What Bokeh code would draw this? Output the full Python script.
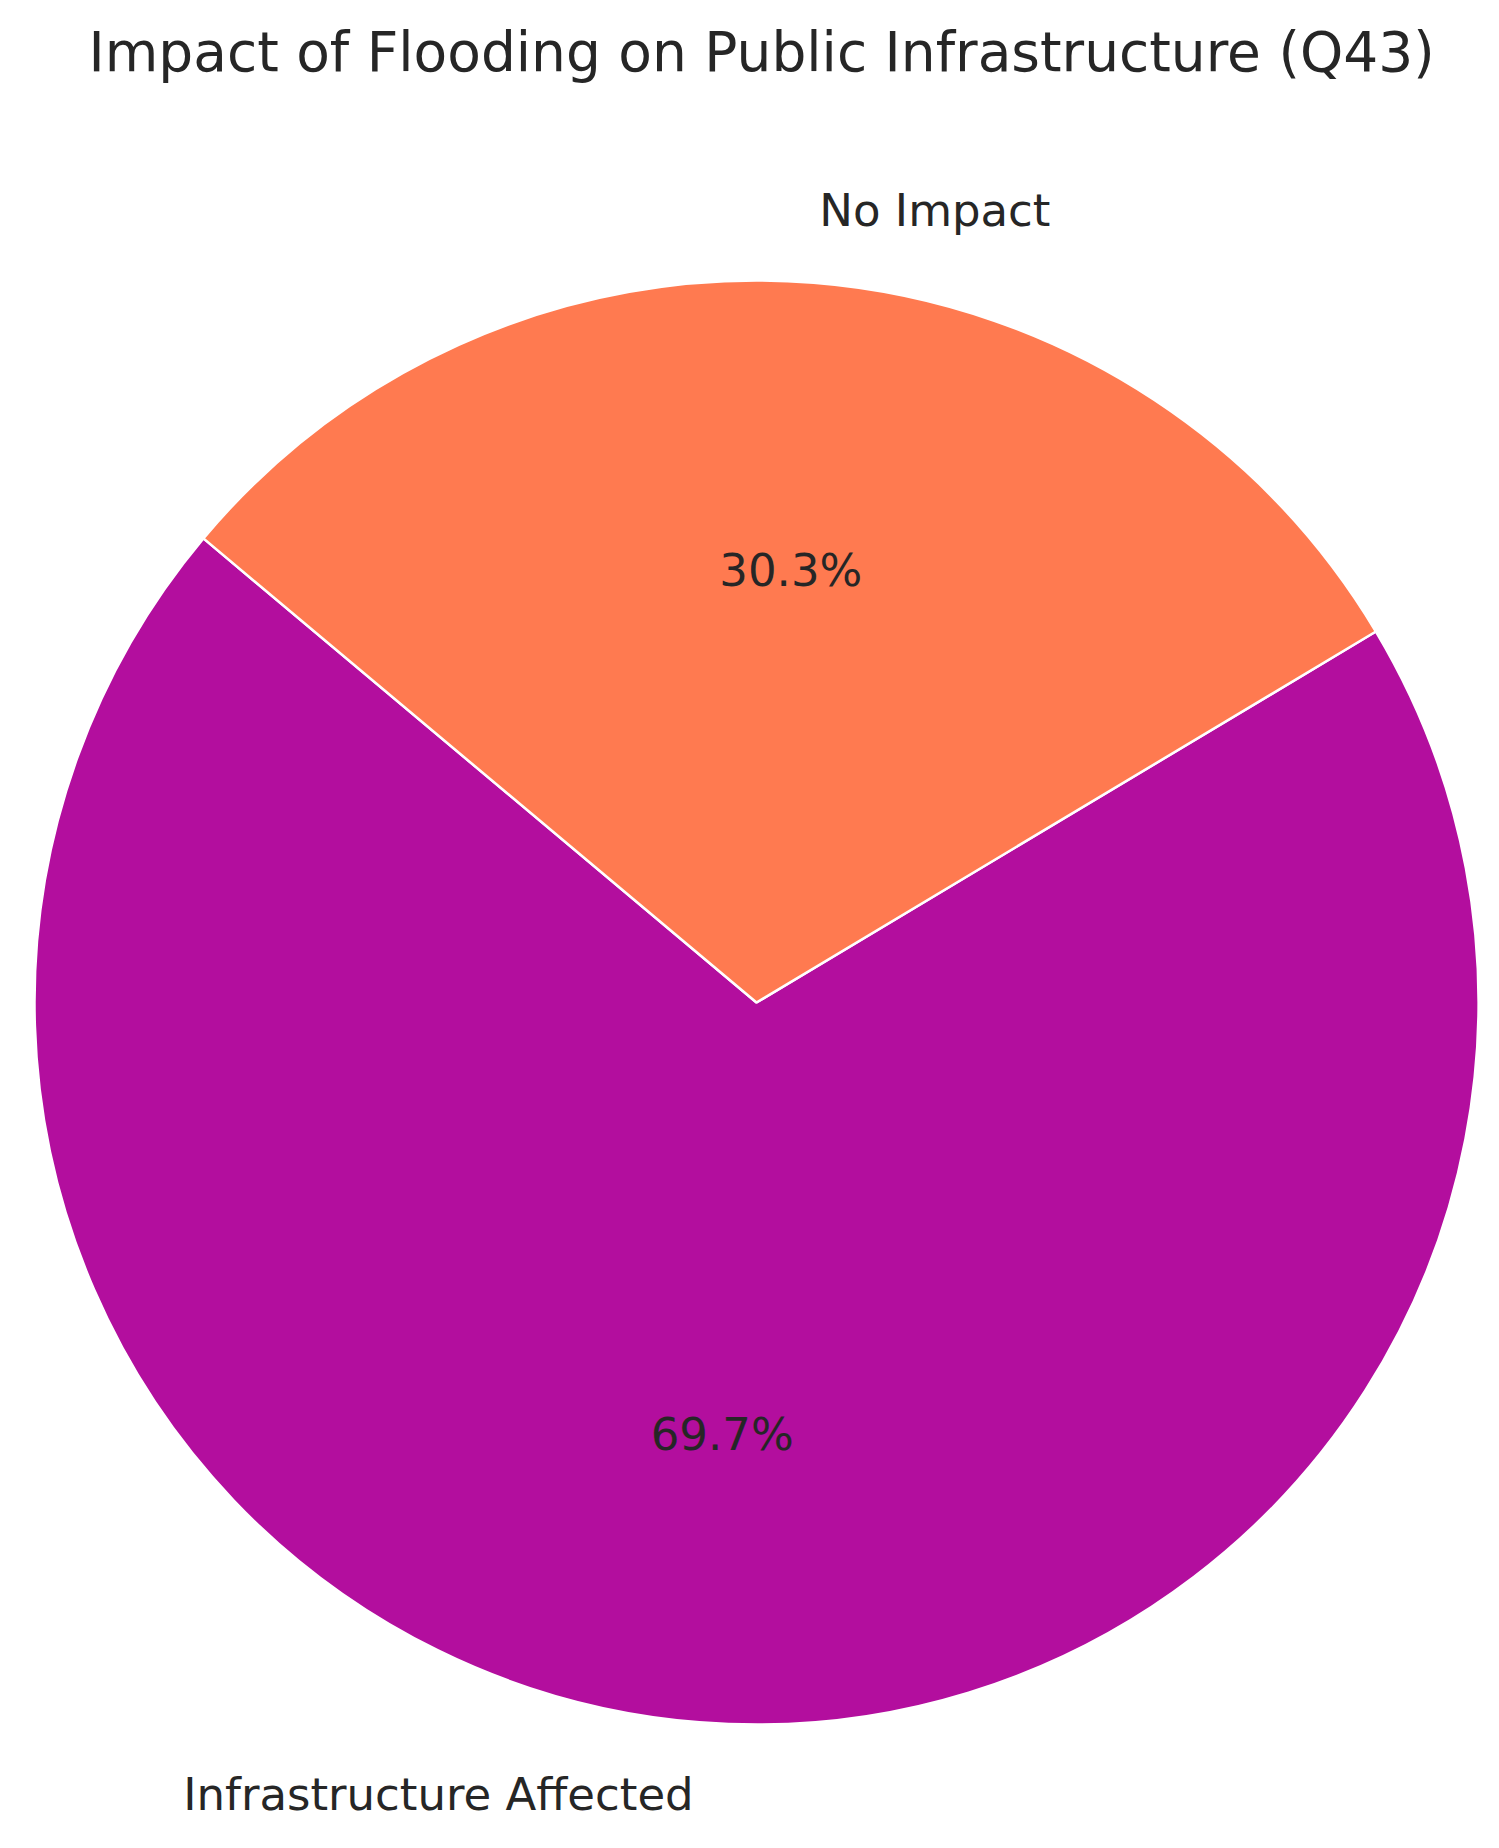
import numpy as np
from bokeh.plotting import figure
from bokeh.models import Range1d, ColumnDataSource, Spacer
from bokeh.layouts import column
from bokeh.core.properties import value
from bokeh.embed import file_html
from bokeh.resources import INLINE

# ---- data ----
categories = ["Infrastructure Affected", "No Impact"]
shares = [69.7, 30.3]
pct_labels = ["69.7%", "30.3%"]
colors = ["#B30E9E", "#FF7A50"]
start_deg = 140
title_text = "Impact of Flooding on Public Infrastructure (Q43)"

# ---- geometry (pixel-like data units) ----
R = 722
FONT = "DejaVu Sans"
TXT = "#262626"

vals = np.array(shares, dtype=float)
frac = vals / vals.sum()
ends = np.deg2rad(start_deg) + 2 * np.pi * np.cumsum(frac)
starts = ends - 2 * np.pi * frac
mids = (starts + ends) / 2

src = ColumnDataSource(dict(cat=categories, start=starts, end=ends, color=colors))

frame_top = 89
frame_h = 1740
p = figure(frame_width=1483, frame_height=frame_h, output_backend="svg",
           toolbar_location=None, min_border=0,
           x_range=Range1d(-756, 727),
           y_range=Range1d(1003 - frame_top - frame_h, 1003 - frame_top))
p.title.text = title_text
p.title.text_font = FONT
p.title.text_font_size = "55px"
p.title.text_font_style = "normal"
p.title.text_color = TXT
p.title.align = "left"
p.title.offset = 88
p.axis.visible = False
p.grid.visible = False
p.outline_line_color = None
p.background_fill_color = "white"
p.border_fill_color = "white"

p.wedge(x=0, y=0, radius=R, start_angle="start", end_angle="end",
        fill_color="color", line_color="white", line_width=2.5, source=src)

lx = 1.1 * R * np.cos(mids)
ly = 1.1 * R * np.sin(mids)
align = ["left" if c > 0 else "right" for c in np.cos(mids)]
lab = ColumnDataSource(dict(x=lx, y=ly, t=categories, a=align))
p.text(x="x", y="y", text="t", text_align="a", text_baseline="middle",
       text_font=value(FONT), text_font_size="45px", text_color=TXT, source=lab)

px = 0.6 * R * np.cos(mids)
py = 0.6 * R * np.sin(mids)
pct = ColumnDataSource(dict(x=px, y=py, t=pct_labels))
p.text(x="x", y="y", text="t", text_align="center", text_baseline="middle",
       text_font=value(FONT), text_font_size="45px", text_color=TXT, source=pct)

layout = column(Spacer(width=1483, height=12), p, spacing=0)
open("out.html", "w").write(file_html(layout, INLINE))
